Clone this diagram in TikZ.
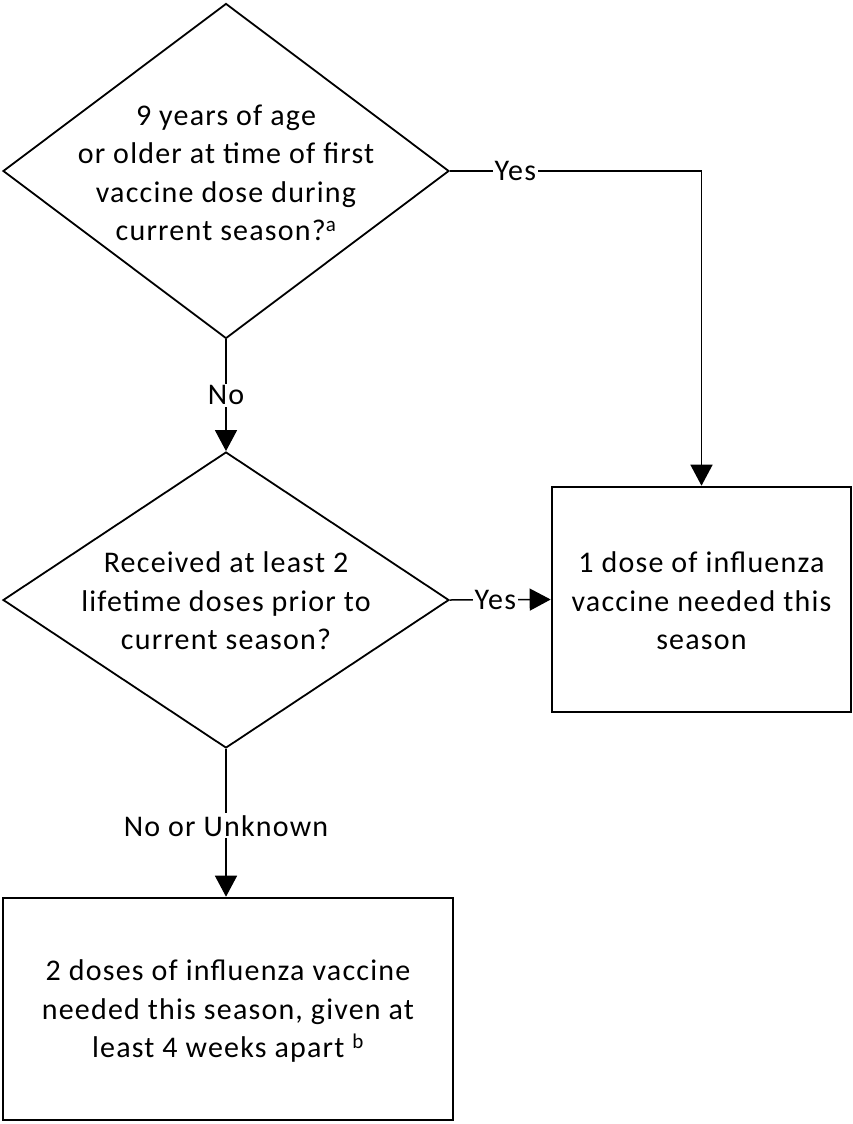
\documentclass[tikz,border=0pt]{standalone}
\usepackage{fontspec}
\setmainfont{Carlito}[LetterSpace=4]
\usetikzlibrary{shapes.geometric,arrows.meta}
\begin{document}
\begin{tikzpicture}[x=1pt,y=-1pt,
  dia/.style={draw,shape=diamond,line width=1.8pt,inner sep=0pt},
  box/.style={draw,rectangle,line width=2.6pt,inner sep=0pt},
  txt/.style={align=center,font=\fontsize{30}{38.5}\selectfont},
  lbl/.style={fill=white,inner sep=2pt,font=\fontsize{30}{32}\selectfont},
  conn/.style={line width=1.5pt},
  arr/.style={conn,-{Triangle[length=21pt,width=22pt]}}]
\useasboundingbox (0,0) rectangle (853,1124);
\node[dia,minimum width=446pt,minimum height=335pt] (d1) at (226,171) {};
\node[txt] (t1) at (226,173) {9 years of age\\or older at time of first\\vaccine dose during\\current season?\textsuperscript{a}};
\node[dia,minimum width=446pt,minimum height=296pt] (d2) at (226,600) {};
\node[txt] (t2) at (226,601) {Received at least 2\\lifetime doses prior to\\current season?};
\node[box,minimum width=299pt,minimum height=225pt] (r1) at (701.5,599.5) {};
\node[txt] (t3) at (701.5,601) {1 dose of influenza\\vaccine needed this\\season};
\node[box,minimum width=450pt,minimum height=222pt] (r2) at (228,1009) {};
\node[txt] (t4) at (228,1011) {2 doses of influenza vaccine\\needed this season, given at\\least 4 weeks apart \textsuperscript{b}};
\coordinate (c1) at (r1.north |- d1.east);
\coordinate (c2) at (d2.south |- r2.north);
\draw[arr] (d1.east) -- node[lbl,pos=0.26]{Yes} (c1) -- (r1.north);
\draw[arr] (d1.south) -- node[lbl,pos=0.5]{No} (d2.north);
\draw[arr] (d2.east) -- node[lbl,pos=0.45]{Yes} (r1.west);
\draw[arr] (d2.south) -- node[lbl,pos=0.52]{No or Unknown} (c2);
\end{tikzpicture}
\end{document}
